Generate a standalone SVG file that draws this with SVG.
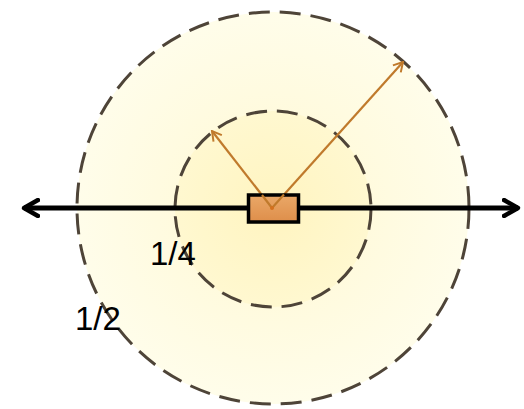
<svg xmlns="http://www.w3.org/2000/svg" width="524" height="409" viewBox="0 0 524 409">
<defs>
<radialGradient id="outerG" cx="273" cy="208" r="196" gradientUnits="userSpaceOnUse">
<stop offset="0" stop-color="#fff8d2"/>
<stop offset="1" stop-color="#fffdea"/>
</radialGradient>
<radialGradient id="innerG" cx="273" cy="209" r="98" gradientUnits="userSpaceOnUse">
<stop offset="0" stop-color="#fff4c0"/>
<stop offset="1" stop-color="#fff8d0"/>
</radialGradient>
<linearGradient id="boxG" x1="0" y1="0" x2="0" y2="1">
<stop offset="0" stop-color="#eaa868"/>
<stop offset="1" stop-color="#de8e4a"/>
</linearGradient>
<marker id="blk" viewBox="0 0 10 10" refX="8" refY="5" markerWidth="4" markerHeight="4" orient="auto-start-reverse" markerUnits="strokeWidth">
<path d="M1,1 L8,5 L1,9" fill="none" stroke="#000" stroke-width="2.2" stroke-linecap="round" stroke-linejoin="round"/>
</marker>
<marker id="org" viewBox="0 0 10 10" refX="9" refY="5" markerWidth="6" markerHeight="6" orient="auto" markerUnits="strokeWidth">
<path d="M2,1 L9,5 L2,9" fill="none" stroke="#c07a2c" stroke-width="1.5"/>
</marker>
</defs>
<style>
.ring{stroke:#4e4438;stroke-width:3;stroke-dasharray:21 10}
.lbl{font-family:"Liberation Sans",Arial,sans-serif;font-size:33px;fill:#000}
.rad{stroke:#c07a2c;stroke-width:2.2;fill:none}
</style>
<rect width="524" height="409" fill="#fff"/>
<g id="outer-circle">
<circle cx="273" cy="208" r="196" fill="url(#outerG)" class="ring"/>
</g>
<g id="inner-circle">
<circle cx="273" cy="209" r="98" fill="url(#innerG)" class="ring"/>
</g>
<g id="connectors">
<line x1="24" y1="208" x2="518" y2="208" stroke="#000" stroke-width="5" marker-start="url(#blk)" marker-end="url(#blk)"/>
<line x1="272" y1="208" x2="212" y2="131" class="rad" marker-end="url(#org)"/>
<line x1="272" y1="208" x2="403" y2="62" class="rad" marker-end="url(#org)"/>
</g>
<g id="source">
<rect x="248.5" y="195" width="50" height="27" fill="url(#boxG)" stroke="#000" stroke-width="3.5"/>
<line x1="272" y1="208" x2="262" y2="195" class="rad"/>
<line x1="272" y1="208" x2="284" y2="194.5" class="rad"/>
<circle cx="272" cy="208" r="2" fill="#d4701e"/>
</g>
<g id="label-quarter">
<text x="150" y="265" class="lbl">1/4</text>
</g>
<g id="label-half">
<text x="75" y="330" class="lbl">1/2</text>
</g>
</svg>
